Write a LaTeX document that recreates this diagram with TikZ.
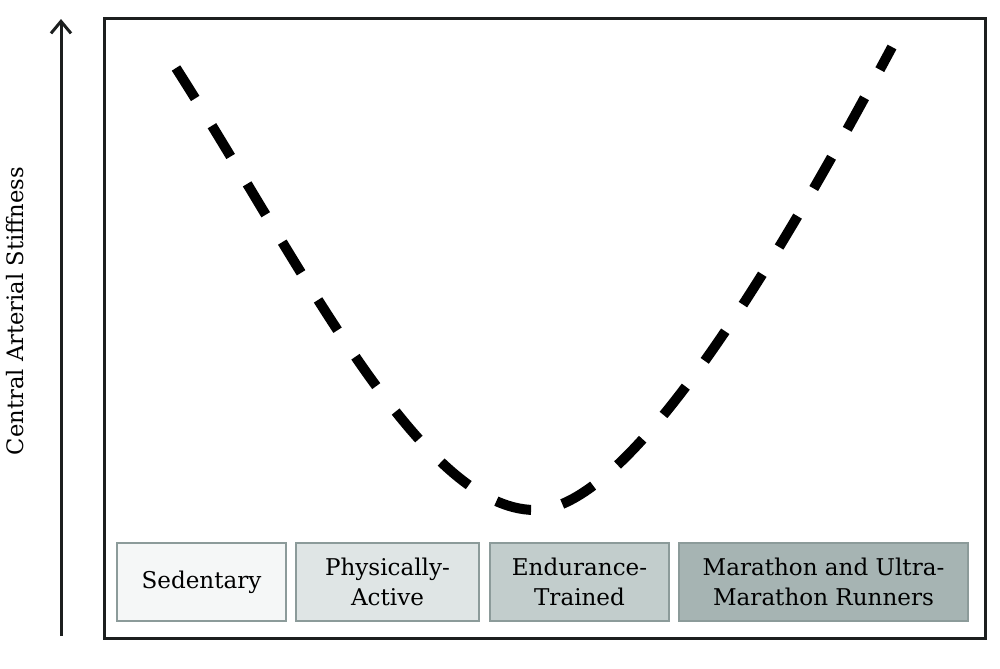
\documentclass[tikz,border=0pt]{standalone}
\usepackage{fontspec}
\setmainfont{DejaVu Serif}
\usetikzlibrary{arrows.meta}
\definecolor{fillA}{HTML}{F5F7F7}
\definecolor{fillB}{HTML}{DFE5E5}
\definecolor{fillC}{HTML}{C2CDCC}
\definecolor{fillD}{HTML}{A6B4B3}
\definecolor{boxline}{HTML}{8C9B9A}
\definecolor{frameline}{HTML}{1C1F1F}
\tikzset{
  groupbox/.style={draw=boxline, line width=1.5pt, inner sep=0pt, anchor=center,
    align=center, font=\fontsize{17.3pt}{22.5pt}\selectfont, text=black},
  curveline/.style={line width=7.5pt, dash pattern=on 27pt off 24pt, line cap=butt},
}
\begin{document}
\begin{tikzpicture}[x=0.75pt,y=-0.75pt]
\useasboundingbox (0,0) rectangle (1000,668);
\fill[white] (0,0) rectangle (1000,668);
% frame
\draw[frameline, line width=2.25pt] (104,18) rectangle (985,638);
% axis arrow
\coordinate (ax0) at (61,636);
\coordinate (ax1) at (61,19);
\draw[frameline, line width=2.25pt, -{Straight Barb[length=9pt,width=15pt]}] (ax0) -- (ax1);
\node[rotate=90, inner sep=0pt, font=\fontsize{17pt}{20pt}\selectfont] (ylab) at (15,311) {Central Arterial Stiffness};
% curve
\draw[curveline] (176,68) .. controls (300,262) and (420,510) .. (535,510)
                          .. controls (640,510) and (810,200) .. (892,47);
% boxes
\node[groupbox, fill=fillA, minimum width=127pt, minimum height=58.5pt] (sed) at (201.5,582) {Sedentary};
\node[groupbox, fill=fillB, minimum width=137pt, minimum height=58.5pt] (pa) at (387.5,582) {Physically-\\Active};
\node[groupbox, fill=fillC, minimum width=134pt, minimum height=58.5pt] (et) at (579.5,582) {Endurance-\\Trained};
\node[groupbox, fill=fillD, minimum width=217pt, minimum height=58.5pt] (mr) at (823.5,582) {Marathon and Ultra-\\Marathon Runners};
\end{tikzpicture}
\end{document}
